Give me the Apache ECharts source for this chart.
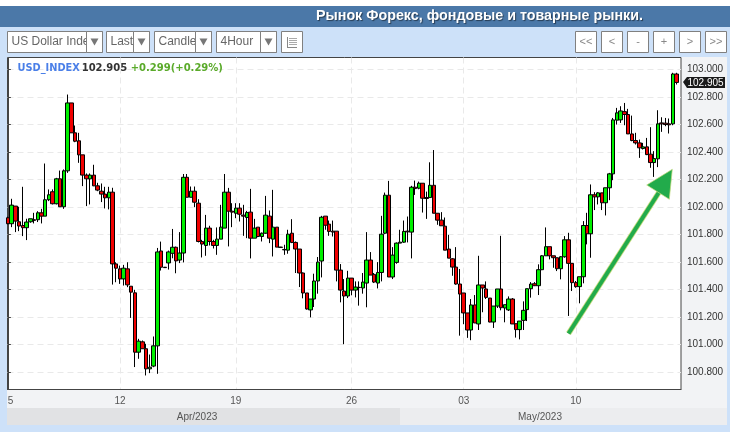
<!DOCTYPE html>
<html>
<head>
<meta charset="utf-8">
<style>html,body{margin:0;padding:0;background:#cde1f9}#chart{width:730px;height:432px}</style>
<script src="https://cdn.jsdelivr.net/npm/echarts@6/dist/echarts.min.js"></script>
</head>
<body>
<div id="chart"></div>
<script>
// 4-hour bars, oldest first
const openPrices = [
  101.922,101.879,102.007,101.893,101.866,101.850,101.893,101.908,101.908,101.958,
  101.934,102.053,102.111,102.024,102.205,102.002,102.263,102.756,102.539,102.481,
  102.379,102.232,102.205,102.232,102.154,102.115,102.094,102.067,102.108,101.587,
  101.551,101.478,101.551,101.425,101.377,100.946,101.021,100.971,100.825,100.845,
  100.992,101.681,101.563,101.594,101.664,101.708,101.615,101.666,102.216,102.071,
  102.115,102.028,101.750,101.721,101.847,101.750,101.721,101.767,101.847,102.108,
  101.970,101.955,101.992,101.941,101.924,101.963,101.774,101.854,101.786,101.810,
  101.934,101.767,101.854,101.709,101.692,101.687,101.810,101.743,101.695,101.521,
  101.376,101.253,101.332,101.463,101.608,101.934,101.876,101.825,101.825,101.542,
  101.390,101.354,101.484,101.397,101.417,101.412,101.448,101.615,101.511,101.448,
  101.525,101.810,102.086,101.492,101.598,101.738,101.745,101.825,101.818,102.144,
  102.137,102.173,102.069,102.069,102.158,101.955,101.905,101.861,101.695,101.624,
  101.564,101.441,101.376,101.231,101.107,101.289,101.151,101.434,101.405,101.339,
  101.165,101.281,101.405,101.267,101.253,101.332,101.153,101.110,101.177,101.255,
  101.407,101.443,101.429,101.545,101.646,101.712,101.646,101.632,101.552,101.639,
  101.762,101.591,101.451,101.422,101.494,101.866,101.806,102.089,102.074,102.103,
  102.031,102.140,102.241,102.631,102.633,102.693,102.672,102.531,102.483,102.466,
  102.425,102.437,102.384,102.323,102.350,102.611,102.609,102.604,102.604,102.966
];
const closePrices = [
  101.879,102.014,101.898,101.862,101.850,101.891,101.915,101.903,101.958,101.934,
  102.053,102.089,102.024,102.205,102.002,102.263,102.756,102.539,102.478,102.379,
  102.232,102.205,102.232,102.154,102.123,102.094,102.067,102.108,101.587,101.556,
  101.478,101.556,101.435,101.382,100.946,101.026,100.971,100.825,100.837,100.992,
  101.674,101.563,101.560,101.674,101.708,101.609,101.666,102.216,102.071,102.115,
  102.035,101.750,101.731,101.847,101.750,101.721,101.767,101.854,102.108,101.970,
  101.963,101.992,101.948,101.934,101.960,101.774,101.847,101.786,101.810,101.941,
  101.774,101.854,101.709,101.707,101.689,101.803,101.743,101.695,101.521,101.376,
  101.260,101.332,101.463,101.600,101.926,101.868,101.823,101.818,101.542,101.397,
  101.354,101.484,101.397,101.419,101.415,101.455,101.615,101.506,101.455,101.525,
  101.803,102.086,101.492,101.651,101.738,101.745,101.823,101.820,102.144,102.134,
  102.173,102.064,102.062,102.158,101.955,101.905,101.864,101.687,101.629,101.564,
  101.441,101.368,101.231,101.107,101.289,101.158,101.434,101.412,101.344,101.165,
  101.281,101.405,101.269,101.291,101.332,101.151,101.110,101.172,101.250,101.407,
  101.441,101.429,101.545,101.646,101.712,101.646,101.632,101.552,101.639,101.762,
  101.591,101.451,101.422,101.494,101.866,101.806,102.089,102.074,102.103,102.031,
  102.140,102.241,102.633,102.684,102.698,102.672,102.531,102.483,102.466,102.430,
  102.437,102.381,102.323,102.352,102.604,102.604,102.599,102.597,102.966,102.905
];
const lowPrices = [
  101.875,101.854,101.818,101.825,101.789,101.760,101.886,101.881,101.891,101.881,
  101.934,102.043,102.019,102.019,102.002,101.987,102.248,102.539,102.471,102.321,
  102.152,102.007,102.019,102.152,102.115,102.036,101.990,101.983,101.437,101.454,
  101.442,101.430,101.418,101.195,100.838,100.898,100.971,100.777,100.794,100.837,
  100.789,101.539,101.558,101.546,101.628,101.519,101.593,101.598,102.071,102.071,
  101.999,101.743,101.634,101.646,101.721,101.699,101.653,101.767,101.847,101.714,
  101.854,101.919,101.895,101.791,101.774,101.627,101.774,101.781,101.750,101.806,
  101.738,101.641,101.709,101.705,101.653,101.661,101.738,101.521,101.419,101.337,
  101.255,101.199,101.274,101.371,101.489,101.835,101.791,101.786,101.460,101.308,
  101.004,101.339,101.359,101.344,101.284,101.371,101.272,101.506,101.448,101.409,
  101.460,101.803,101.492,101.477,101.588,101.738,101.740,101.743,101.627,102.088,
  102.129,101.960,101.914,102.069,101.955,101.871,101.864,101.687,101.629,101.501,
  101.436,101.066,101.149,101.050,101.033,101.158,101.107,101.236,101.332,101.163,
  101.122,101.267,101.250,101.163,101.245,101.151,101.052,101.039,101.107,101.172,
  101.342,101.426,101.361,101.542,101.646,101.620,101.559,101.535,101.475,101.632,
  101.209,101.390,101.414,101.301,101.446,101.729,101.632,101.978,102.019,101.978,
  101.939,102.050,102.195,102.599,102.611,102.594,102.531,102.478,102.454,102.357,
  102.418,102.377,102.285,102.219,102.290,102.546,102.587,102.534,102.594,102.890
];
const highPrices = [
  101.930,102.060,102.007,102.002,102.147,101.915,101.915,101.958,101.970,101.987,
  102.316,102.128,102.128,102.212,102.265,102.273,102.817,102.756,102.592,102.539,
  102.379,102.244,102.244,102.307,102.176,102.171,102.147,102.147,102.140,101.599,
  101.575,101.580,101.599,101.425,101.399,101.043,101.031,101.007,100.929,101.060,
  101.703,101.749,101.565,101.684,101.841,101.713,101.818,102.240,102.240,102.149,
  102.149,102.057,101.762,101.943,101.864,101.762,101.852,102.016,102.240,102.139,
  102.028,102.028,102.028,102.016,101.972,102.132,101.914,101.854,101.815,102.081,
  101.975,102.125,101.854,101.711,101.726,101.835,101.912,101.750,101.695,101.525,
  101.376,101.332,101.516,101.637,101.936,101.934,101.902,101.902,101.825,101.586,
  101.477,101.537,101.484,101.460,101.460,101.521,101.818,101.673,101.521,101.600,
  101.936,102.105,102.190,101.709,101.743,101.835,101.902,101.931,102.154,102.192,
  102.185,102.173,102.112,102.325,102.414,101.955,101.963,101.924,101.798,101.629,
  101.709,101.550,101.376,101.231,101.332,101.361,101.646,101.434,101.460,101.339,
  101.281,101.405,101.791,101.291,101.351,101.339,101.153,101.172,101.315,101.407,
  101.455,101.455,101.584,101.651,101.852,101.712,101.646,101.632,101.644,101.789,
  101.813,101.591,101.463,101.494,101.898,101.958,102.164,102.108,102.108,102.103,
  102.140,102.248,102.647,102.720,102.732,102.756,102.713,102.664,102.539,102.490,
  102.466,102.502,102.580,102.406,102.703,102.652,102.647,102.643,102.975,102.975
];
const dateTickBars = [0, 30, 61, 92, 122, 152];
const dateTickLabels = ['5', '12', '19', '26', '03', '10'];
const priceTicks = [100.8, 101, 101.2, 101.4, 101.6, 101.8, 102, 102.2, 102.4, 102.6, 102.8, 103];
const lastPrice = '102.905';

const candles = openPrices.map((o, i) => [i, o, closePrices[i], lowPrices[i], highPrices[i]]);
const uiFont = '"Liberation Sans", Arial, sans-serif';
const boxStroke = '#808080';

function rect(x, y, w, h, fill, stroke, z) {
  return { type: 'rect', shape: { x, y, width: w, height: h }, z: z === undefined ? 5 : z,
    style: { fill: fill, stroke: stroke || null, lineWidth: stroke ? 1 : 0 } };
}
function label(x, y, text, opts) {
  return { type: 'text', x, y, z: (opts && opts.z) || 5,
    style: Object.assign({ text, fill: '#555', font: '12px ' + uiFont, textVerticalAlign: 'middle' }, opts) };
}
function seg(x1, y1, x2, y2, color, z) {
  return { type: 'line', shape: { x1, y1, x2, y2 }, z: z || 5, style: { stroke: color, lineWidth: 1 } };
}

// toolbar dropdown: white box, text, then the arrow cell painted over the text
function dropdown(x, w, divider, text) {
  const y = 31.5, h = 21;
  const cx = divider + (x + w - divider) / 2;
  return [
    rect(x, y, w, h, '#fff', boxStroke),
    label(x + 4, y + 10.5, text, { fill: '#666', font: '12px ' + uiFont, z: 6 }),
    rect(divider, y, x + w - divider, h, '#fff', boxStroke, 7),
    { type: 'polygon', z: 8, shape: { points: [[cx - 4, y + 7], [cx + 4, y + 7], [cx, y + 14]] }, style: { fill: '#777' } }
  ];
}
function navButton(x, text) {
  return [
    rect(x, 31.5, 21, 21, '#fff', boxStroke),
    label(x + 10.5, 42, text, { fill: '#888', font: '11px ' + uiFont, textAlign: 'center', z: 6 })
  ];
}

const chrome = [].concat(
  [
    rect(0, 0, 730, 6, '#fff', null, -1),
    rect(0, 6, 730, 21, '#4b78a8', null, -1),
    rect(7, 57, 720, 351, '#f2f3f5', null, -1),
    rect(7, 408, 393, 17, '#e1e2e4', null, -1),
    rect(400, 408, 327, 17, '#ecedef', null, -1),
    label(316, 16.5, 'Рынок Форекс, фондовые и товарные рынки.', {
      fill: '#fff', font: 'bold 14.3px ' + uiFont, textShadowColor: 'rgba(0,0,0,0.5)', textShadowBlur: 1, textShadowOffsetX: 1, textShadowOffsetY: 1
    }),
    label(197, 417, 'Apr/2023', { fill: '#555', font: '10px ' + uiFont, textAlign: 'center' }),
    label(540, 417, 'May/2023', { fill: '#555', font: '10px ' + uiFont, textAlign: 'center' })
  ],
  dropdown(7.5, 95, 86.5, 'US Dollar Index'),
  dropdown(106.5, 43, 133.5, 'Last'),
  dropdown(154.5, 57, 195.5, 'Candle'),
  dropdown(216.5, 60, 260.5, '4Hour'),
  [
    rect(281.5, 31.5, 21, 21, '#fff', boxStroke),
    seg(287.5, 37, 287.5, 47.5, '#888', 6),
    seg(287, 47.5, 297, 47.5, '#888', 6),
    seg(289, 38.5, 297, 38.5, '#aaa', 6),
    seg(289, 40.5, 297, 40.5, '#aaa', 6),
    seg(289, 42.5, 297, 42.5, '#aaa', 6),
    seg(289, 44.5, 297, 44.5, '#aaa', 6)
  ],
  navButton(575.5, '<<'), navButton(601.5, '<'), navButton(627.5, '-'),
  navButton(653.5, '+'), navButton(679.5, '>'), navButton(705.5, '>>'),
  [
    label(17.5, 68.5, 'USD_INDEX', { fill: '#4a7fe8', font: 'bold 9.8px "DejaVu Sans"', z: 20 }),
    label(81.7, 68.5, lastPrice, { fill: '#333', font: 'bold 10px "DejaVu Sans"', z: 20 }),
    label(130.7, 68.5, '+0.299(+0.29%)', { fill: '#5aaa2a', font: 'bold 10px "DejaVu Sans"', z: 20 }),
    // last price tag on the price axis
    { type: 'polygon', z: 20, shape: { points: [[683, 82], [687, 77], [725, 77], [725, 88], [687, 88]] }, style: { fill: '#1a1a1a' } },
    label(687.5, 83, lastPrice, { fill: '#fff', font: '10px ' + uiFont, z: 21 }),
    // hand drawn green arrow
    { type: 'line', z: 20, shape: { x1: 568.5, y1: 333.5, x2: 663, y2: 186 }, style: { stroke: '#c6db7c', lineWidth: 5.5 } },
    { type: 'line', z: 21, shape: { x1: 568.5, y1: 333.5, x2: 663, y2: 186 }, style: { stroke: '#22ab4b', lineWidth: 4 } },
    { type: 'polygon', z: 21, shape: { points: [[672.3, 169.3], [646.7, 185], [669.3, 199.3]] },
      style: { fill: '#22ab4b', stroke: '#c6db7c', lineWidth: 0.7 } }
  ]
);

const chart = echarts.init(document.getElementById('chart'));
chart.setOption({
  animation: false,
  backgroundColor: '#cde1f9',
  graphic: { elements: chrome },
  grid: {
    left: 7.5, right: 49, top: 57.5, bottom: 42.5,
    show: true, backgroundColor: '#fff', borderColor: '#444', borderWidth: 1
  },
  xAxis: {
    type: 'value',
    min: -0.1,
    max: 180.16,
    axisLine: { show: true, lineStyle: { color: '#444' } },
    axisTick: { show: false, customValues: dateTickBars },
    axisLabel: {
      customValues: dateTickBars,
      formatter: v => dateTickLabels[dateTickBars.indexOf(v)],
      color: '#555',
      fontFamily: uiFont,
      fontSize: 10,
      margin: 5,
      padding: [2, 0, 0, 0],
      hideOverlap: false,
      showMinLabel: true,
      alignMinLabel: 'left'
    },
    splitLine: { show: true, lineStyle: { color: '#e9e9e9', type: [6, 4] } }
  },
  yAxis: {
    type: 'value',
    position: 'right',
    min: 100.675,
    max: 103.086,
    axisLine: { show: true, lineStyle: { color: '#444' } },
    axisTick: { show: true, length: 3, lineStyle: { color: '#444' }, customValues: priceTicks },
    axisLabel: {
      customValues: priceTicks,
      formatter: v => v.toFixed(3),
      color: '#333',
      fontFamily: uiFont,
      fontSize: 10,
      margin: 6,
      padding: [4, 0, 0, 0]
    },
    splitLine: { show: true, lineStyle: { color: '#e9e9e9', type: [6, 4] } }
  },
  series: [
    {
      type: 'candlestick',
      data: candles,
      barWidth: 4,
      itemStyle: {
        color: '#00f000',
        color0: '#f00000',
        borderColor: '#000',
        borderColor0: '#000',
        borderColorDoji: '#000',
        borderWidth: 1
      }
    }
  ]
});
</script>
</body>
</html>
